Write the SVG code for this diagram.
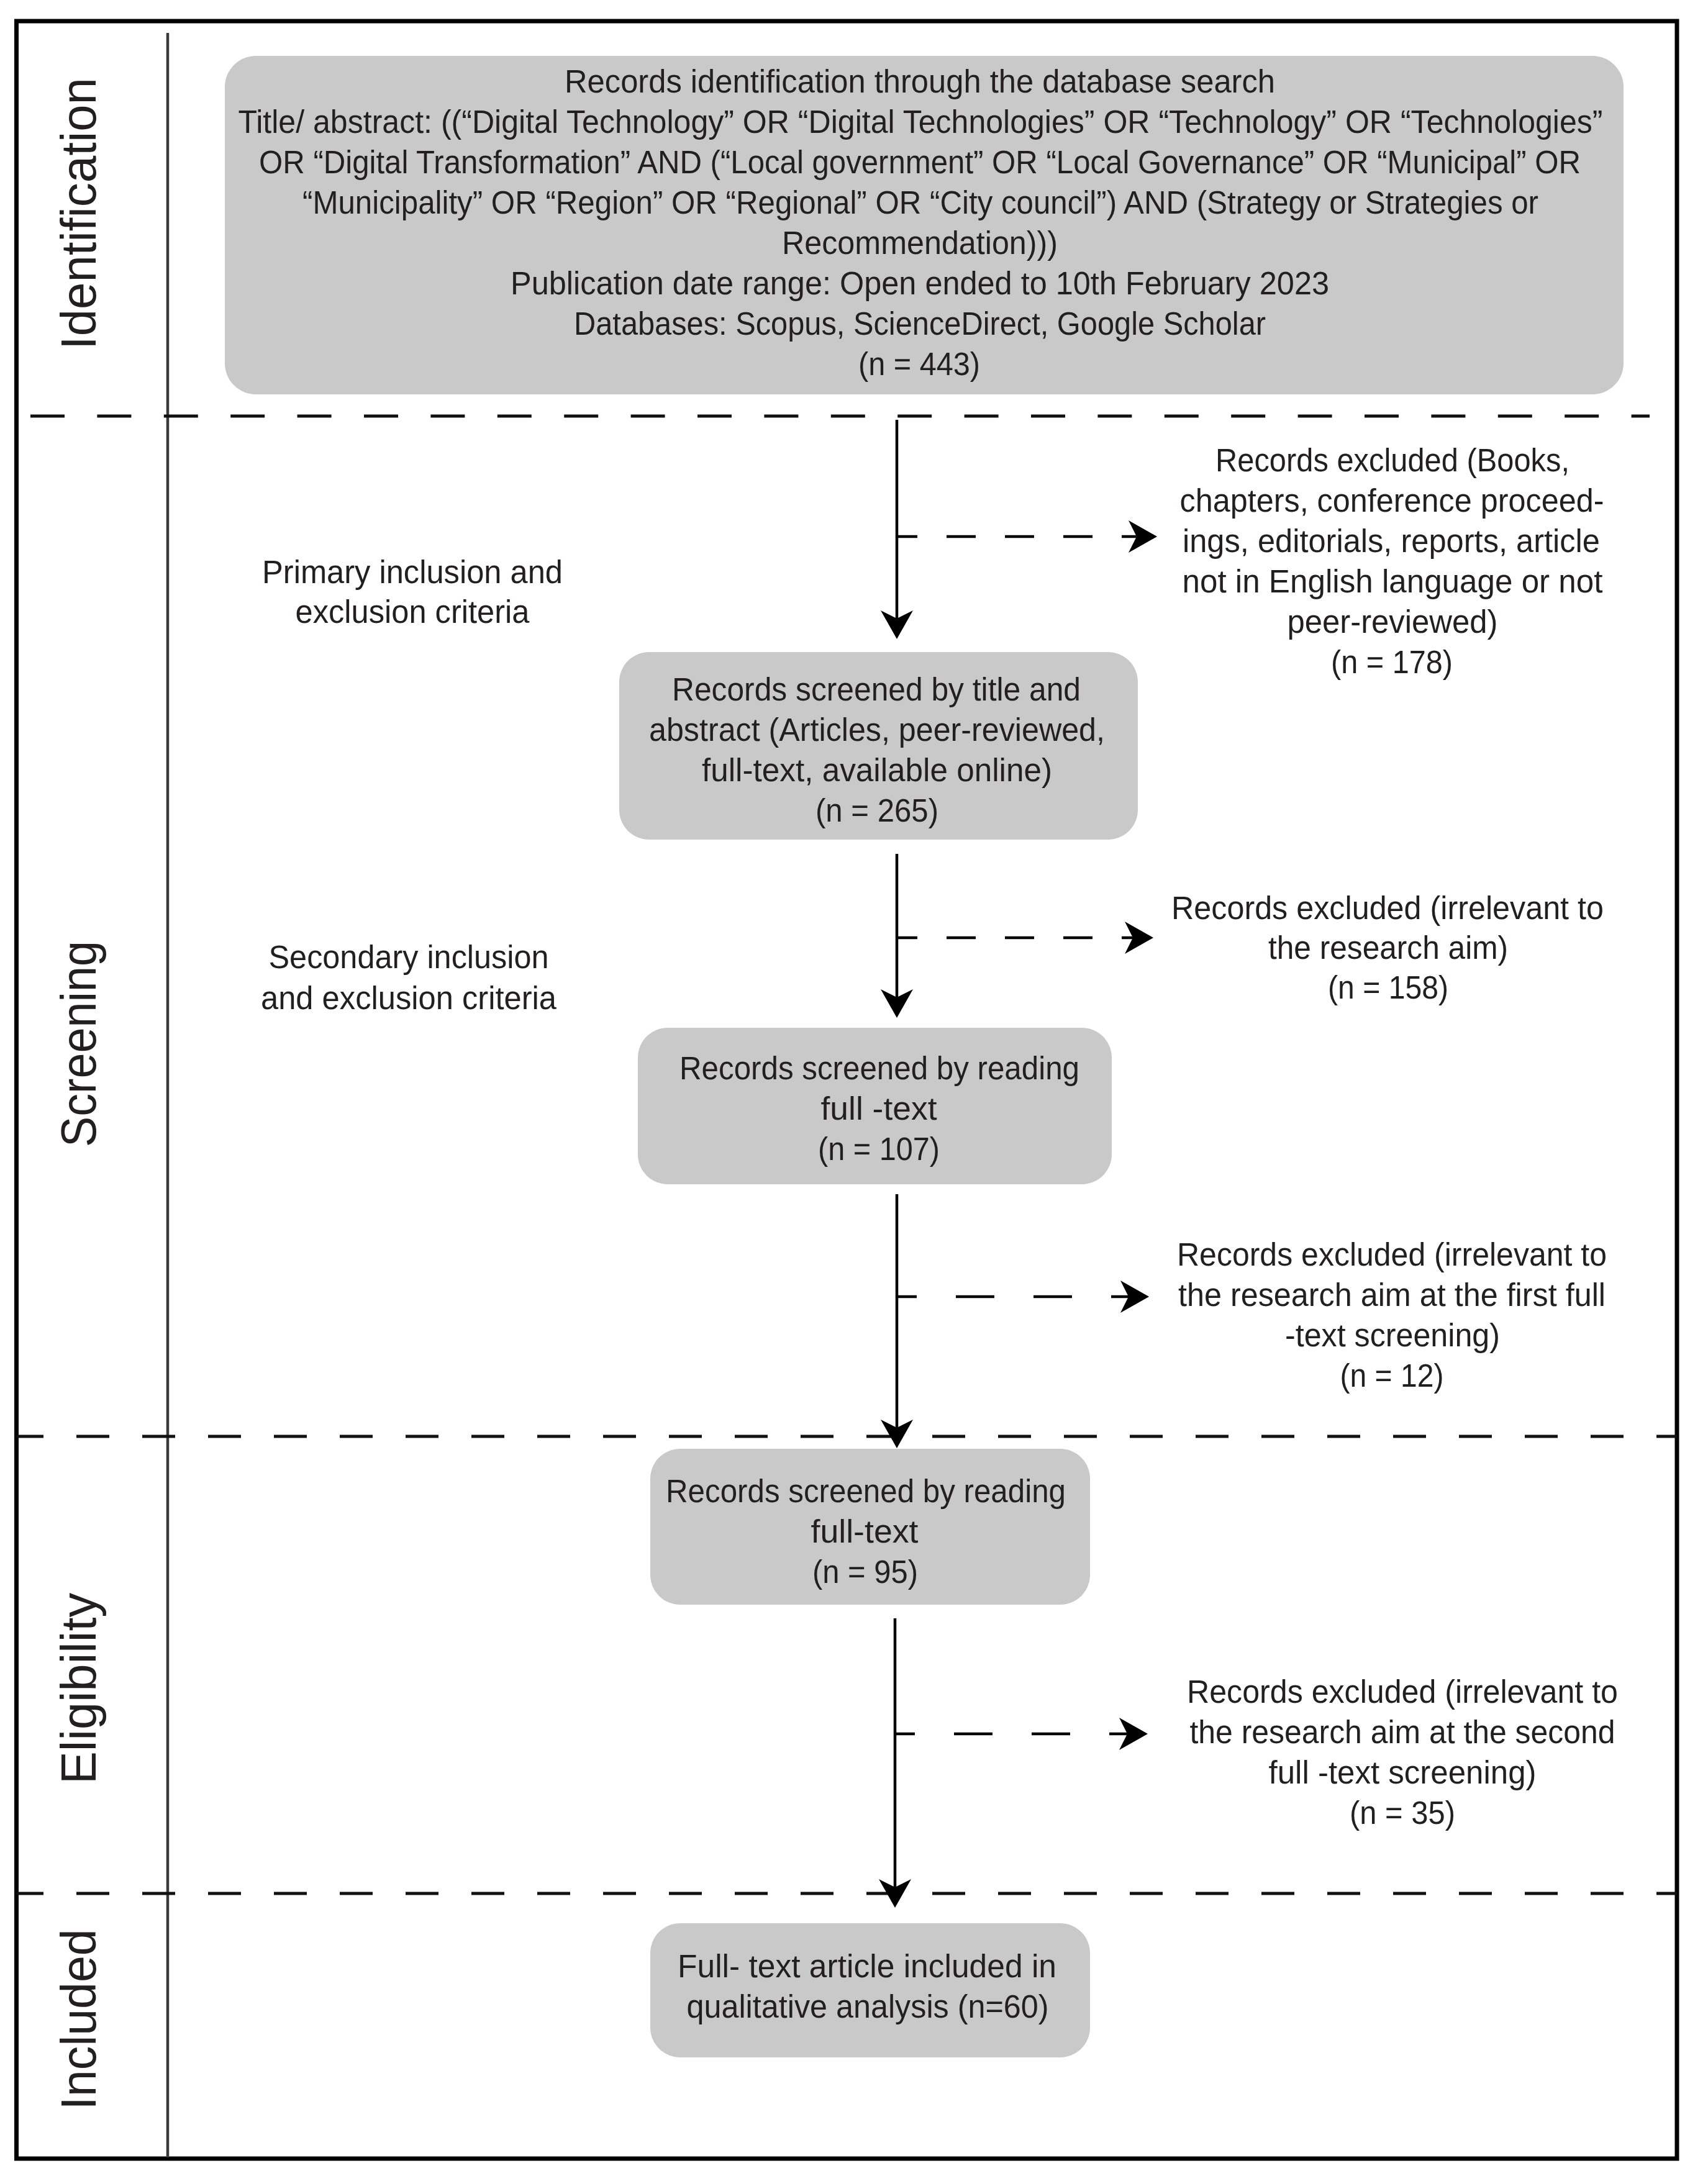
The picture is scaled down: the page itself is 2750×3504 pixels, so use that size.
<svg xmlns="http://www.w3.org/2000/svg" width="2750" height="3504" viewBox="0 0 2750 3504">
<style>
.bg{fill:#ffffff}
.frame{fill:none;stroke:#000;stroke-width:7}
.divider{fill:none;stroke:#3a3a3a;stroke-width:4.5}
.sect{fill:none;stroke:#111;stroke-width:5}
.box{fill:#c9c9c9}
.t{font-family:"Liberation Sans",Arial,sans-serif;font-size:51px;fill:#231f20;text-anchor:middle}
.phase{font-family:"Liberation Sans",Arial,sans-serif;font-size:79px;fill:#231f20;text-anchor:middle}
.flow{fill:none;stroke:#000;stroke-width:4.5;marker-end:url(#ah)}
.ex1{fill:none;stroke:#000;stroke-width:4.5;stroke-dasharray:47 47;stroke-dashoffset:16;marker-end:url(#ah)}
.ex2{fill:none;stroke:#000;stroke-width:4.5;stroke-dasharray:62 63;stroke-dashoffset:32;marker-end:url(#ah)}
</style>
<defs>
<marker id="ah" markerUnits="userSpaceOnUse" markerWidth="80" markerHeight="80" viewBox="-40 -40 80 80" refX="0" refY="0" orient="auto" overflow="visible">
<path d="M12,0 L-34,-26 L-21,0 L-34,26 Z" fill="#000"/>
</marker>
</defs>
<rect class="bg" x="0" y="0" width="2750" height="3504"/>

<g id="frame">
<rect class="frame" x="26.5" y="34" width="2673.5" height="3442"/>
<line class="divider" x1="270" y1="53" x2="270" y2="3474"/>
</g>

<g id="section-lines">
<line class="sect" x1="49" y1="670" x2="2656" y2="670" style="stroke-dasharray:55 52.4"/>
<line class="sect" x1="27" y1="2313" x2="2700" y2="2313" style="stroke-dasharray:53 53;stroke-dashoffset:10"/>
<line class="sect" x1="27" y1="3049" x2="2700" y2="3049" style="stroke-dasharray:53 53;stroke-dashoffset:10"/>
</g>

<g id="phase-labels">
<text class="phase" transform="translate(154,344) rotate(-90)" textLength="438" lengthAdjust="spacingAndGlyphs">Identification</text>
<text class="phase" transform="translate(154,1681) rotate(-90)" textLength="332" lengthAdjust="spacingAndGlyphs">Screening</text>
<text class="phase" transform="translate(154,2719) rotate(-90)" textLength="308" lengthAdjust="spacingAndGlyphs">Eligibility</text>
<text class="phase" transform="translate(154,3252) rotate(-90)" textLength="291" lengthAdjust="spacingAndGlyphs">Included</text>
</g>

<g id="node-identification">
<rect class="box" x="362" y="90" width="2252" height="545" rx="50" ry="50"/>
<text class="t" x="1481" y="149" textLength="1144" lengthAdjust="spacingAndGlyphs">Records identification through the database search</text>
<text class="t" x="1482" y="214" textLength="2197" lengthAdjust="spacingAndGlyphs">Title/ abstract: ((“Digital Technology” OR “Digital Technologies” OR “Technology” OR “Technologies”</text>
<text class="t" x="1481" y="279" textLength="2128" lengthAdjust="spacingAndGlyphs">OR “Digital Transformation” AND (“Local government” OR “Local Governance” OR “Municipal” OR</text>
<text class="t" x="1482" y="344" textLength="1990" lengthAdjust="spacingAndGlyphs">“Municipality” OR “Region” OR “Regional” OR “City council”) AND (Strategy or Strategies or</text>
<text class="t" x="1481" y="409" textLength="444" lengthAdjust="spacingAndGlyphs">Recommendation)))</text>
<text class="t" x="1481" y="474" textLength="1318" lengthAdjust="spacingAndGlyphs">Publication date range: Open ended to 10th February 2023</text>
<text class="t" x="1481" y="539" textLength="1114" lengthAdjust="spacingAndGlyphs">Databases: Scopus, ScienceDirect, Google Scholar</text>
<text class="t" x="1480" y="604" textLength="196" lengthAdjust="spacingAndGlyphs">(n = 443)</text>
</g>

<g id="label-primary-criteria">
<text class="t" x="664" y="939" textLength="484" lengthAdjust="spacingAndGlyphs">Primary inclusion and</text>
<text class="t" x="664" y="1003" textLength="377" lengthAdjust="spacingAndGlyphs">exclusion criteria</text>
</g>

<g id="node-excluded-1">
<text class="t" x="2242" y="759" textLength="570" lengthAdjust="spacingAndGlyphs">Records excluded (Books,</text>
<text class="t" x="2241" y="824" textLength="683" lengthAdjust="spacingAndGlyphs">chapters, conference proceed-</text>
<text class="t" x="2240" y="889" textLength="672" lengthAdjust="spacingAndGlyphs">ings, editorials, reports, article</text>
<text class="t" x="2242" y="954" textLength="677" lengthAdjust="spacingAndGlyphs">not in English language or not</text>
<text class="t" x="2242" y="1019" textLength="339" lengthAdjust="spacingAndGlyphs">peer-reviewed)</text>
<text class="t" x="2241" y="1084" textLength="196" lengthAdjust="spacingAndGlyphs">(n = 178)</text>
</g>

<g id="node-screened-title-abstract">
<rect class="box" x="997" y="1050" width="835" height="302" rx="48" ry="48"/>
<text class="t" x="1411" y="1128" textLength="658" lengthAdjust="spacingAndGlyphs">Records screened by title and</text>
<text class="t" x="1412" y="1193" textLength="734" lengthAdjust="spacingAndGlyphs">abstract (Articles, peer-reviewed,</text>
<text class="t" x="1412" y="1258" textLength="564" lengthAdjust="spacingAndGlyphs">full-text, available online)</text>
<text class="t" x="1412" y="1323" textLength="198" lengthAdjust="spacingAndGlyphs">(n = 265)</text>
</g>

<g id="label-secondary-criteria">
<text class="t" x="658" y="1559" textLength="451" lengthAdjust="spacingAndGlyphs">Secondary inclusion</text>
<text class="t" x="658" y="1625" textLength="476" lengthAdjust="spacingAndGlyphs">and exclusion criteria</text>
</g>

<g id="node-excluded-2">
<text class="t" x="2234" y="1480" textLength="696" lengthAdjust="spacingAndGlyphs">Records excluded (irrelevant to</text>
<text class="t" x="2235" y="1544" textLength="386" lengthAdjust="spacingAndGlyphs">the research aim)</text>
<text class="t" x="2235" y="1608" textLength="194" lengthAdjust="spacingAndGlyphs">(n = 158)</text>
</g>

<g id="node-screened-fulltext-1">
<rect class="box" x="1027" y="1655" width="763" height="252" rx="48" ry="48"/>
<text class="t" x="1416" y="1738" textLength="644" lengthAdjust="spacingAndGlyphs">Records screened by reading</text>
<text class="t" x="1415" y="1803" textLength="187" lengthAdjust="spacingAndGlyphs">full -text</text>
<text class="t" x="1415" y="1868" textLength="196" lengthAdjust="spacingAndGlyphs">(n = 107)</text>
</g>

<g id="node-excluded-3">
<text class="t" x="2241" y="2038" textLength="692" lengthAdjust="spacingAndGlyphs">Records excluded (irrelevant to</text>
<text class="t" x="2241" y="2103" textLength="688" lengthAdjust="spacingAndGlyphs">the research aim at the first full</text>
<text class="t" x="2242" y="2168" textLength="346" lengthAdjust="spacingAndGlyphs">-text screening)</text>
<text class="t" x="2241" y="2233" textLength="167" lengthAdjust="spacingAndGlyphs">(n = 12)</text>
</g>

<g id="node-screened-fulltext-2">
<rect class="box" x="1047" y="2333" width="708" height="251" rx="48" ry="48"/>
<text class="t" x="1394" y="2419" textLength="644" lengthAdjust="spacingAndGlyphs">Records screened by reading</text>
<text class="t" x="1392" y="2484" textLength="173" lengthAdjust="spacingAndGlyphs">full-text</text>
<text class="t" x="1393" y="2549" textLength="170" lengthAdjust="spacingAndGlyphs">(n = 95)</text>
</g>

<g id="node-excluded-4">
<text class="t" x="2258" y="2742" textLength="694" lengthAdjust="spacingAndGlyphs">Records excluded (irrelevant to</text>
<text class="t" x="2258" y="2807" textLength="685" lengthAdjust="spacingAndGlyphs">the research aim at the second</text>
<text class="t" x="2258" y="2872" textLength="431" lengthAdjust="spacingAndGlyphs">full -text screening)</text>
<text class="t" x="2258" y="2937" textLength="170" lengthAdjust="spacingAndGlyphs">(n = 35)</text>
</g>

<g id="node-included">
<rect class="box" x="1047" y="3097" width="708" height="216" rx="48" ry="48"/>
<text class="t" x="1396" y="3184" textLength="610" lengthAdjust="spacingAndGlyphs">Full- text article included in</text>
<text class="t" x="1397" y="3249" textLength="583" lengthAdjust="spacingAndGlyphs">qualitative analysis (n=60)</text>
</g>

<g id="connectors">
<line class="flow" x1="1444" y1="676" x2="1444" y2="1017"/>
<line class="flow" x1="1444" y1="1375" x2="1444" y2="1627"/>
<line class="flow" x1="1444" y1="1923" x2="1444" y2="2320"/>
<line class="flow" x1="1441" y1="2606" x2="1441" y2="3060"/>
<line class="ex1" x1="1446" y1="864" x2="1851" y2="864"/>
<line class="ex1" x1="1446" y1="1510" x2="1845" y2="1510"/>
<line class="ex2" x1="1446" y1="2088" x2="1838" y2="2088"/>
<line class="ex2" x1="1443" y1="2792" x2="1836" y2="2792"/>
</g>
</svg>
